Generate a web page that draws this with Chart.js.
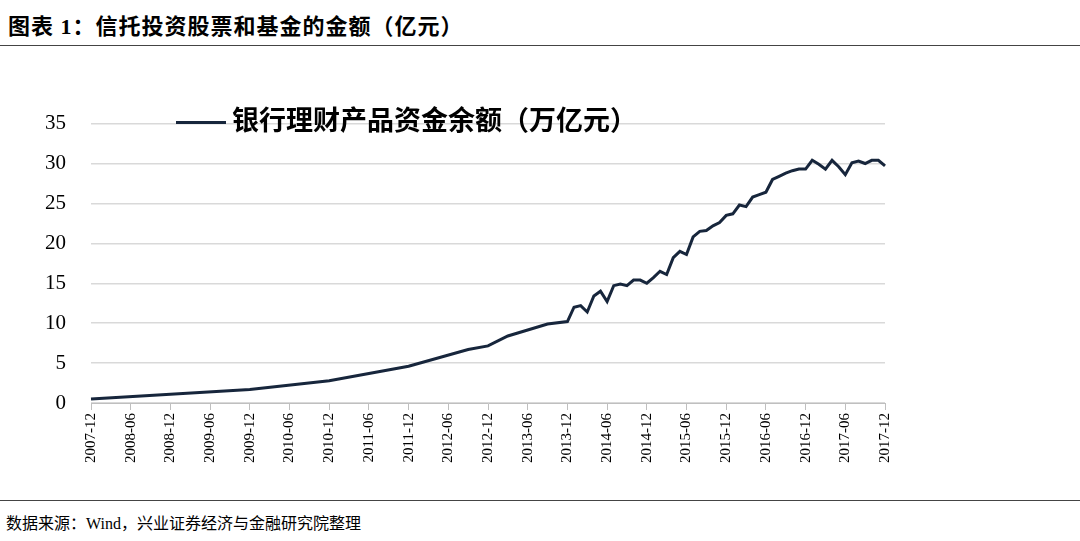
<!DOCTYPE html>
<html><head><meta charset="utf-8">
<script src="https://cdn.jsdelivr.net/npm/chart.js@4"></script>
<style>
body{margin:0;width:1080px;height:541px;background:#fff;position:relative;overflow:hidden;font-family:"Liberation Serif","Noto Sans CJK SC",serif}
#title{position:absolute;left:8px;top:8px;font:bold 22px "Liberation Serif","Noto Sans CJK SC";color:#000;letter-spacing:1px}
#l1{position:absolute;left:0;top:45px;width:1080px;height:1px;background:#444}
#l2{position:absolute;left:0;top:500px;width:1080px;height:1px;background:#444}
#src{position:absolute;left:6px;top:510px;font:16px "Liberation Serif","Noto Sans CJK SC";color:#000}
#wrap{position:absolute;left:0;top:86px;width:1080px;height:380px}
</style></head><body>
<div id="title">图表 1：信托投资股票和基金的金额（亿元）</div>
<div id="l1"></div>
<div id="wrap"><canvas id="c"></canvas></div>
<div id="l2"></div>
<div id="src">数据来源：Wind，兴业证券经济与金融研究院整理</div>
<script>
const seriesName = "银行理财产品资金余额（万亿元）";
const earlyMonths = ["2007-12","2009-12","2010-12","2011-12","2012-09","2012-12","2013-03","2013-09","2013-12"];
const earlyValues = [0.5,1.7,2.8,4.6,6.7,7.15,8.4,9.9,10.2];
const monthlyValues = [12.0,12.2,11.4,13.4,14.0,12.7,14.7,14.9,14.7,15.4,15.4,15.0,
 15.7,16.5,16.1,18.2,19.0,18.6,20.8,21.5,21.6,22.2,22.6,23.5,
 23.7,24.8,24.6,25.8,26.1,26.4,28.0,28.4,28.8,29.1,29.3,29.3,
 30.4,29.9,29.3,30.4,29.6,28.6,30.1,30.3,30.0,30.4,30.4,29.7];
const yTicks = [0,5,10,15,20,25,30,35];

const labels = [];
for (let y=2007,m=12; y<2017 || (y===2017 && m<=12); ) {
  labels.push(y+"-"+String(m).padStart(2,"0"));
  m++; if (m>12){m=1;y++;}
}
const values = labels.map(l=>{
  const i = earlyMonths.indexOf(l); if (i>=0) return earlyValues[i];
  return null;
});
monthlyValues.forEach((v,i)=>{ values[labels.indexOf("2014-01")+i] = v; });

const legendPlugin = {
  id:"inlegend",
  afterDraw(chart){
    const ds = chart.data.datasets[0], ctx = chart.ctx;
    const y = chart.chartArea.top - 1;
    ctx.save();
    ctx.strokeStyle = ds.borderColor; ctx.lineWidth = 3;
    ctx.beginPath(); ctx.moveTo(176,y); ctx.lineTo(226,y); ctx.stroke();
    ctx.fillStyle="#000"; ctx.textBaseline="middle";
    ctx.font='bold 27px "Liberation Serif","Noto Sans CJK SC"';
    ctx.fillText(ds.label, 232, y);
    ctx.restore();
  }
};

new Chart(document.getElementById("c"), {
  type:"line",
  data:{labels, datasets:[{label:seriesName,data:values,borderColor:"#17263c",borderWidth:3,pointRadius:0,spanGaps:true,tension:0}]},
  options:{
    responsive:true, maintainAspectRatio:false, animation:false,
    layout:{padding:{left:20,right:195,top:10,bottom:0}},
    plugins:{legend:{display:false},tooltip:{enabled:false}},
    scales:{
      x:{offset:false,
        grid:{display:true,drawOnChartArea:false,color:"#bfbfbf",tickLength:7,
          tickColor:(ctx)=> (ctx.index%6===0?"#bfbfbf":"rgba(0,0,0,0)")},
        border:{color:"#bfbfbf"},
        ticks:{autoSkip:false,maxRotation:90,minRotation:90,color:"#000",
          font:{family:"Liberation Serif",size:15},
          callback:function(v,i){return i%6===0?this.getLabelForValue(v):"";}}},
      y:{min:0,max:35,
        afterBuildTicks:(s)=>{s.ticks=yTicks.map(v=>({value:v}));},
        grid:{color:"#d9d9d9",lineWidth:1.5,drawTicks:false},
        border:{display:false},
        ticks:{color:"#000",padding:25,font:{family:"Liberation Serif",size:21}}}
    }
  },
  plugins:[legendPlugin]
});
</script></body></html>
